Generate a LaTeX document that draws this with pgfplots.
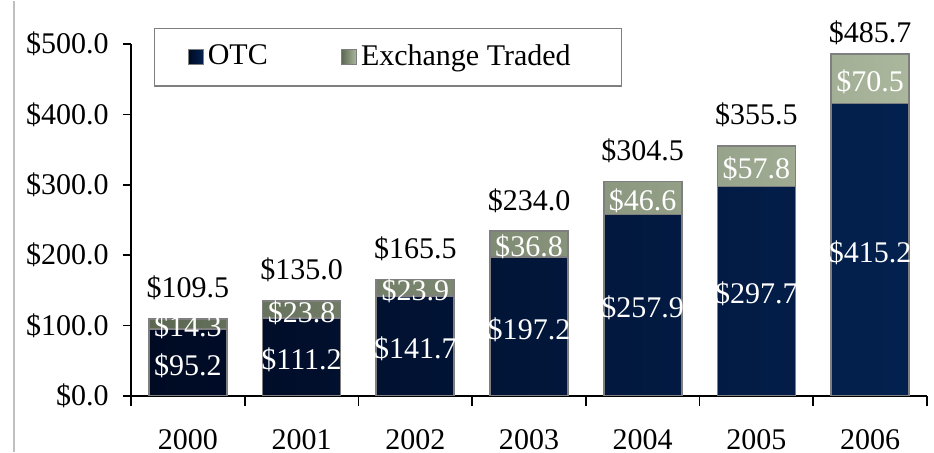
\documentclass[border=0pt]{standalone}
\usepackage{fontspec}
\setmainfont{Liberation Serif}
\usepackage{pgfplots}
\usepackage{pgfplotstable}
\pgfplotsset{compat=1.18}

\definecolor{navyA}{HTML}{000A23}
\definecolor{navyB}{HTML}{03214F}
\definecolor{oliveA}{HTML}{5C6752}
\definecolor{oliveB}{HTML}{ABB79D}
\definecolor{barline}{HTML}{7F7F7F}

% x otc exch total off(label shift for totals)
\pgfplotstableread{
x otc exch total off
0 95.2 14.3 109.5 10.5
1 111.2 23.8 135.0 10.5
2 141.7 23.9 165.5 10.5
3 197.2 36.8 234.0 10.5
4 257.9 46.6 304.5 10.5
5 297.7 57.8 355.5 10.5
6 415.2 70.5 485.7 6
}\datatable

\pgfplotsset{
    /pgf/number format/assume math mode=true,
    samebox/.style={scale only axis, width=398pt, height=176pt,
        xmin=-0.5, xmax=6.5, ymin=0, ymax=500},
}
\tikzset{seglabel/.style={white, anchor=center, inner sep=0pt, yshift=-1.5pt}}

\begin{document}
{\fontsize{15}{18}\selectfont
\begin{tikzpicture}
\begin{axis}[
    samebox,
    ybar stacked,
    bar width=39pt,
    axis lines*=left,
    axis line style={black, line width=0.8pt},
    tick style={black, line width=0.8pt},
    tick align=outside,
    xtick={0,...,6},
    xticklabels={2000,2001,2002,2003,2004,2005,2006},
    major x tick style={draw=none},
    minor xtick={-0.5,0.5,...,6.5},
    minor tick length=5pt,
    major tick length=4pt,
    ytick={0,100,...,500},
    yticklabel={\$\pgfmathprintnumber[fixed,fixed zerofill,precision=1]{\tick}},
    xticklabel style={inner sep=0pt, anchor=north, yshift=-12.5pt},
    yticklabel style={inner sep=0pt, anchor=east, xshift=-7pt},
    legend columns=2,
    legend style={draw=barline, line width=0.6pt, at={(0,1)}, anchor=north west,
        xshift=11.5pt, yshift=8pt, inner xsep=16.5pt, inner ysep=6pt,
        /tikz/every even column/.append style={column sep=34.5pt}},
    legend image code/.code={\draw[#1, draw=barline, line width=0.6pt] (0pt,-3.75pt) rectangle (7.5pt,3.75pt);},
]
\addplot[draw=barline, line width=0.8pt, left color=navyA, right color=navyB,
    point meta=explicit,
    nodes near coords={\$\pgfmathprintnumber[fixed,fixed zerofill,precision=1]{\pgfplotspointmeta}},
    every node near coord/.style={seglabel}]
    table[x=x, y=otc, meta=otc] {\datatable};
\addlegendentry{OTC}
\addplot[draw=barline, line width=0.8pt, left color=oliveA, right color=oliveB,
    point meta=explicit,
    nodes near coords={\$\pgfmathprintnumber[fixed,fixed zerofill,precision=1]{\pgfplotspointmeta}},
    every node near coord/.style={seglabel}]
    table[x=x, y=exch, meta=exch] {\datatable};
\addlegendentry{Exchange Traded\hspace{7pt}\mbox{}}
\end{axis}
% totals above the bars
\begin{axis}[samebox, hide axis]
\addplot[draw=none, mark=none,
    point meta=explicit,
    visualization depends on={\thisrow{off} \as \offv},
    nodes near coords={\$\pgfmathprintnumber[fixed,fixed zerofill,precision=1]{\pgfplotspointmeta}},
    every node near coord/.style={black, anchor=base, inner sep=0pt, yshift={\offv pt}}]
    table[x=x, y=total, meta=total] {\datatable};
\end{axis}
\pgfresetboundingbox
\path ([shift={(-65.5pt,-28pt)}]current axis.south west) rectangle ([shift={(3.5pt,21.5pt)}]current axis.north east);
\draw[black!25, line width=1pt] ([shift={(-58.5pt,-28pt)}]current axis.south west) -- ([shift={(-58.5pt,21.5pt)}]current axis.north west);
\end{tikzpicture}}
\end{document}
